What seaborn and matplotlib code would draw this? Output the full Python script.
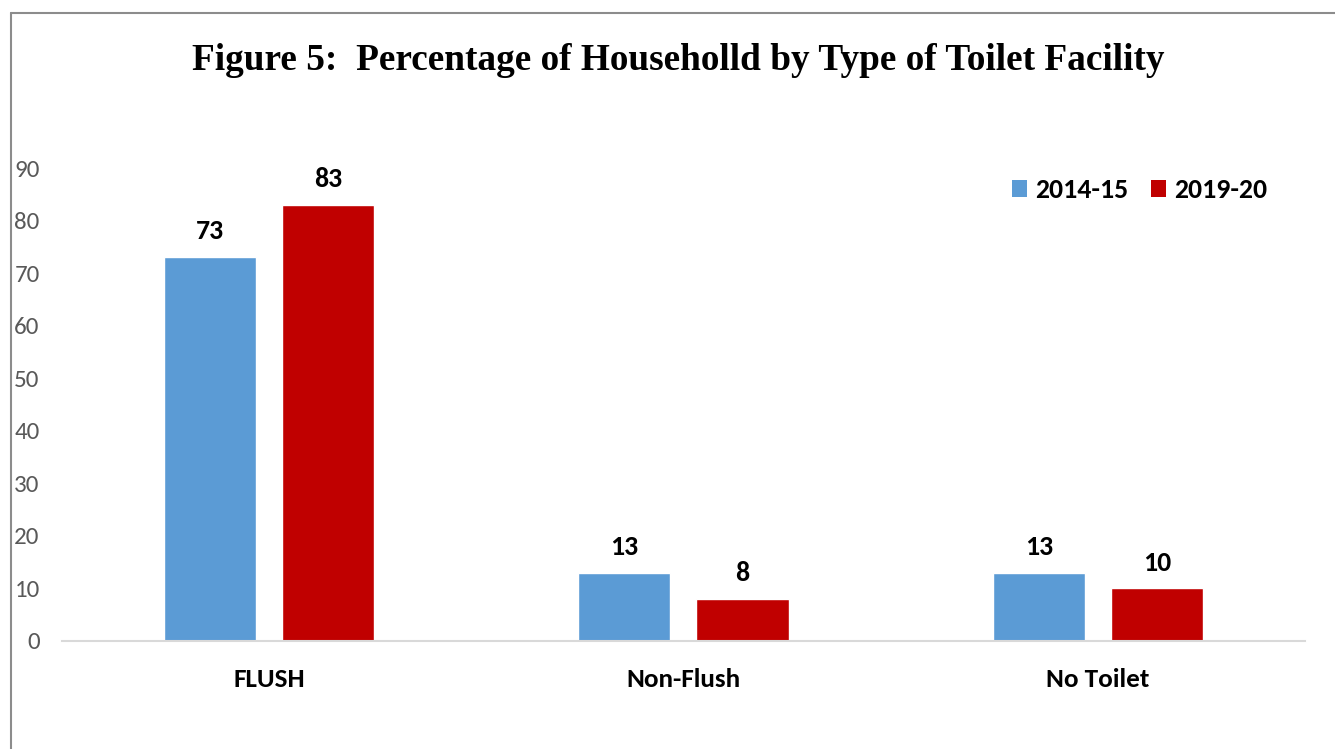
import matplotlib
matplotlib.use("Agg")
import matplotlib.pyplot as plt
import seaborn as sns
import pandas as pd
from matplotlib.lines import Line2D
from matplotlib.patches import Patch

categories = ["FLUSH", "Non-Flush", "No Toilet"]
series_names = ["2014-15", "2019-20"]
values_2014 = [73, 13, 13]
values_2019 = [83, 8, 10]
yticks = [0, 10, 20, 30, 40, 50, 60, 70, 80, 90]
colors = ["#5B9BD5", "#C00000"]

df = pd.DataFrame({
    "category": categories * 2,
    "year": [series_names[0]] * 3 + [series_names[1]] * 3,
    "value": values_2014 + values_2019,
})

sns.set_style("white")
plt.rcParams["font.family"] = ["Carlito", "DejaVu Sans"]
plt.rcParams["text.color"] = "black"

fig = plt.figure(figsize=(13.35, 7.49), dpi=100)
ax = fig.add_axes([0.0464, 0.1442, 0.9311, 0.6315])

sns.barplot(data=df, x="category", y="value", hue="year", order=categories,
            hue_order=series_names, palette=colors, width=0.57, gap=0.22,
            saturation=1, ax=ax, legend=False)

ax.set_xlim(-0.5, 2.5)
ax.set_ylim(0, 90)
ax.set_yticks(yticks)
ax.set_yticklabels([str(t) for t in yticks], fontsize=18, color="#595959")
ax.tick_params(axis="y", length=0, pad=16)
ax.tick_params(axis="x", length=0, pad=19.5)
for lbl in ax.get_xticklabels():
    lbl.set_fontsize(19.5)
    lbl.set_fontweight("bold")
    lbl.set_color("black")
ax.set_xlabel("")
ax.set_ylabel("")
for s in ["top", "right", "left"]:
    ax.spines[s].set_visible(False)
ax.spines["bottom"].set_color("#d9d9d9")
ax.spines["bottom"].set_linewidth(1.5)

for cont in ax.containers:
    ax.bar_label(cont, fmt="%d", padding=10, fontsize=20, fontweight="bold",
                 color="black", clip_on=False)

handles = [Patch(facecolor=c, edgecolor="none", label=n) for c, n in zip(colors, series_names)]
ax.legend(handles=handles, loc="center right", bbox_to_anchor=(0.970, 0.9535), ncol=2,
          frameon=False, prop={"family": "Carlito", "weight": "bold", "size": 20},
          handlelength=0.55, handleheight=0.55, handletextpad=0.3, columnspacing=0.8,
          borderaxespad=0, borderpad=0)

fig.text(0.508, 0.919, "Figure 5:  Percentage of Householld by Type of Toilet Facility",
         ha="center", va="center", fontsize=26.8, fontweight="bold",
         family="Liberation Serif", color="black")

# partial border (top and left)
fig.add_artist(Line2D([0.0082, 1.0], [0.983, 0.983], color="#8c8c8c", lw=1.5,
                      transform=fig.transFigure))
fig.add_artist(Line2D([0.0082, 0.0082], [0.0, 0.983], color="#8c8c8c", lw=1.5,
                      transform=fig.transFigure))

fig.savefig("out.png", dpi=100)
